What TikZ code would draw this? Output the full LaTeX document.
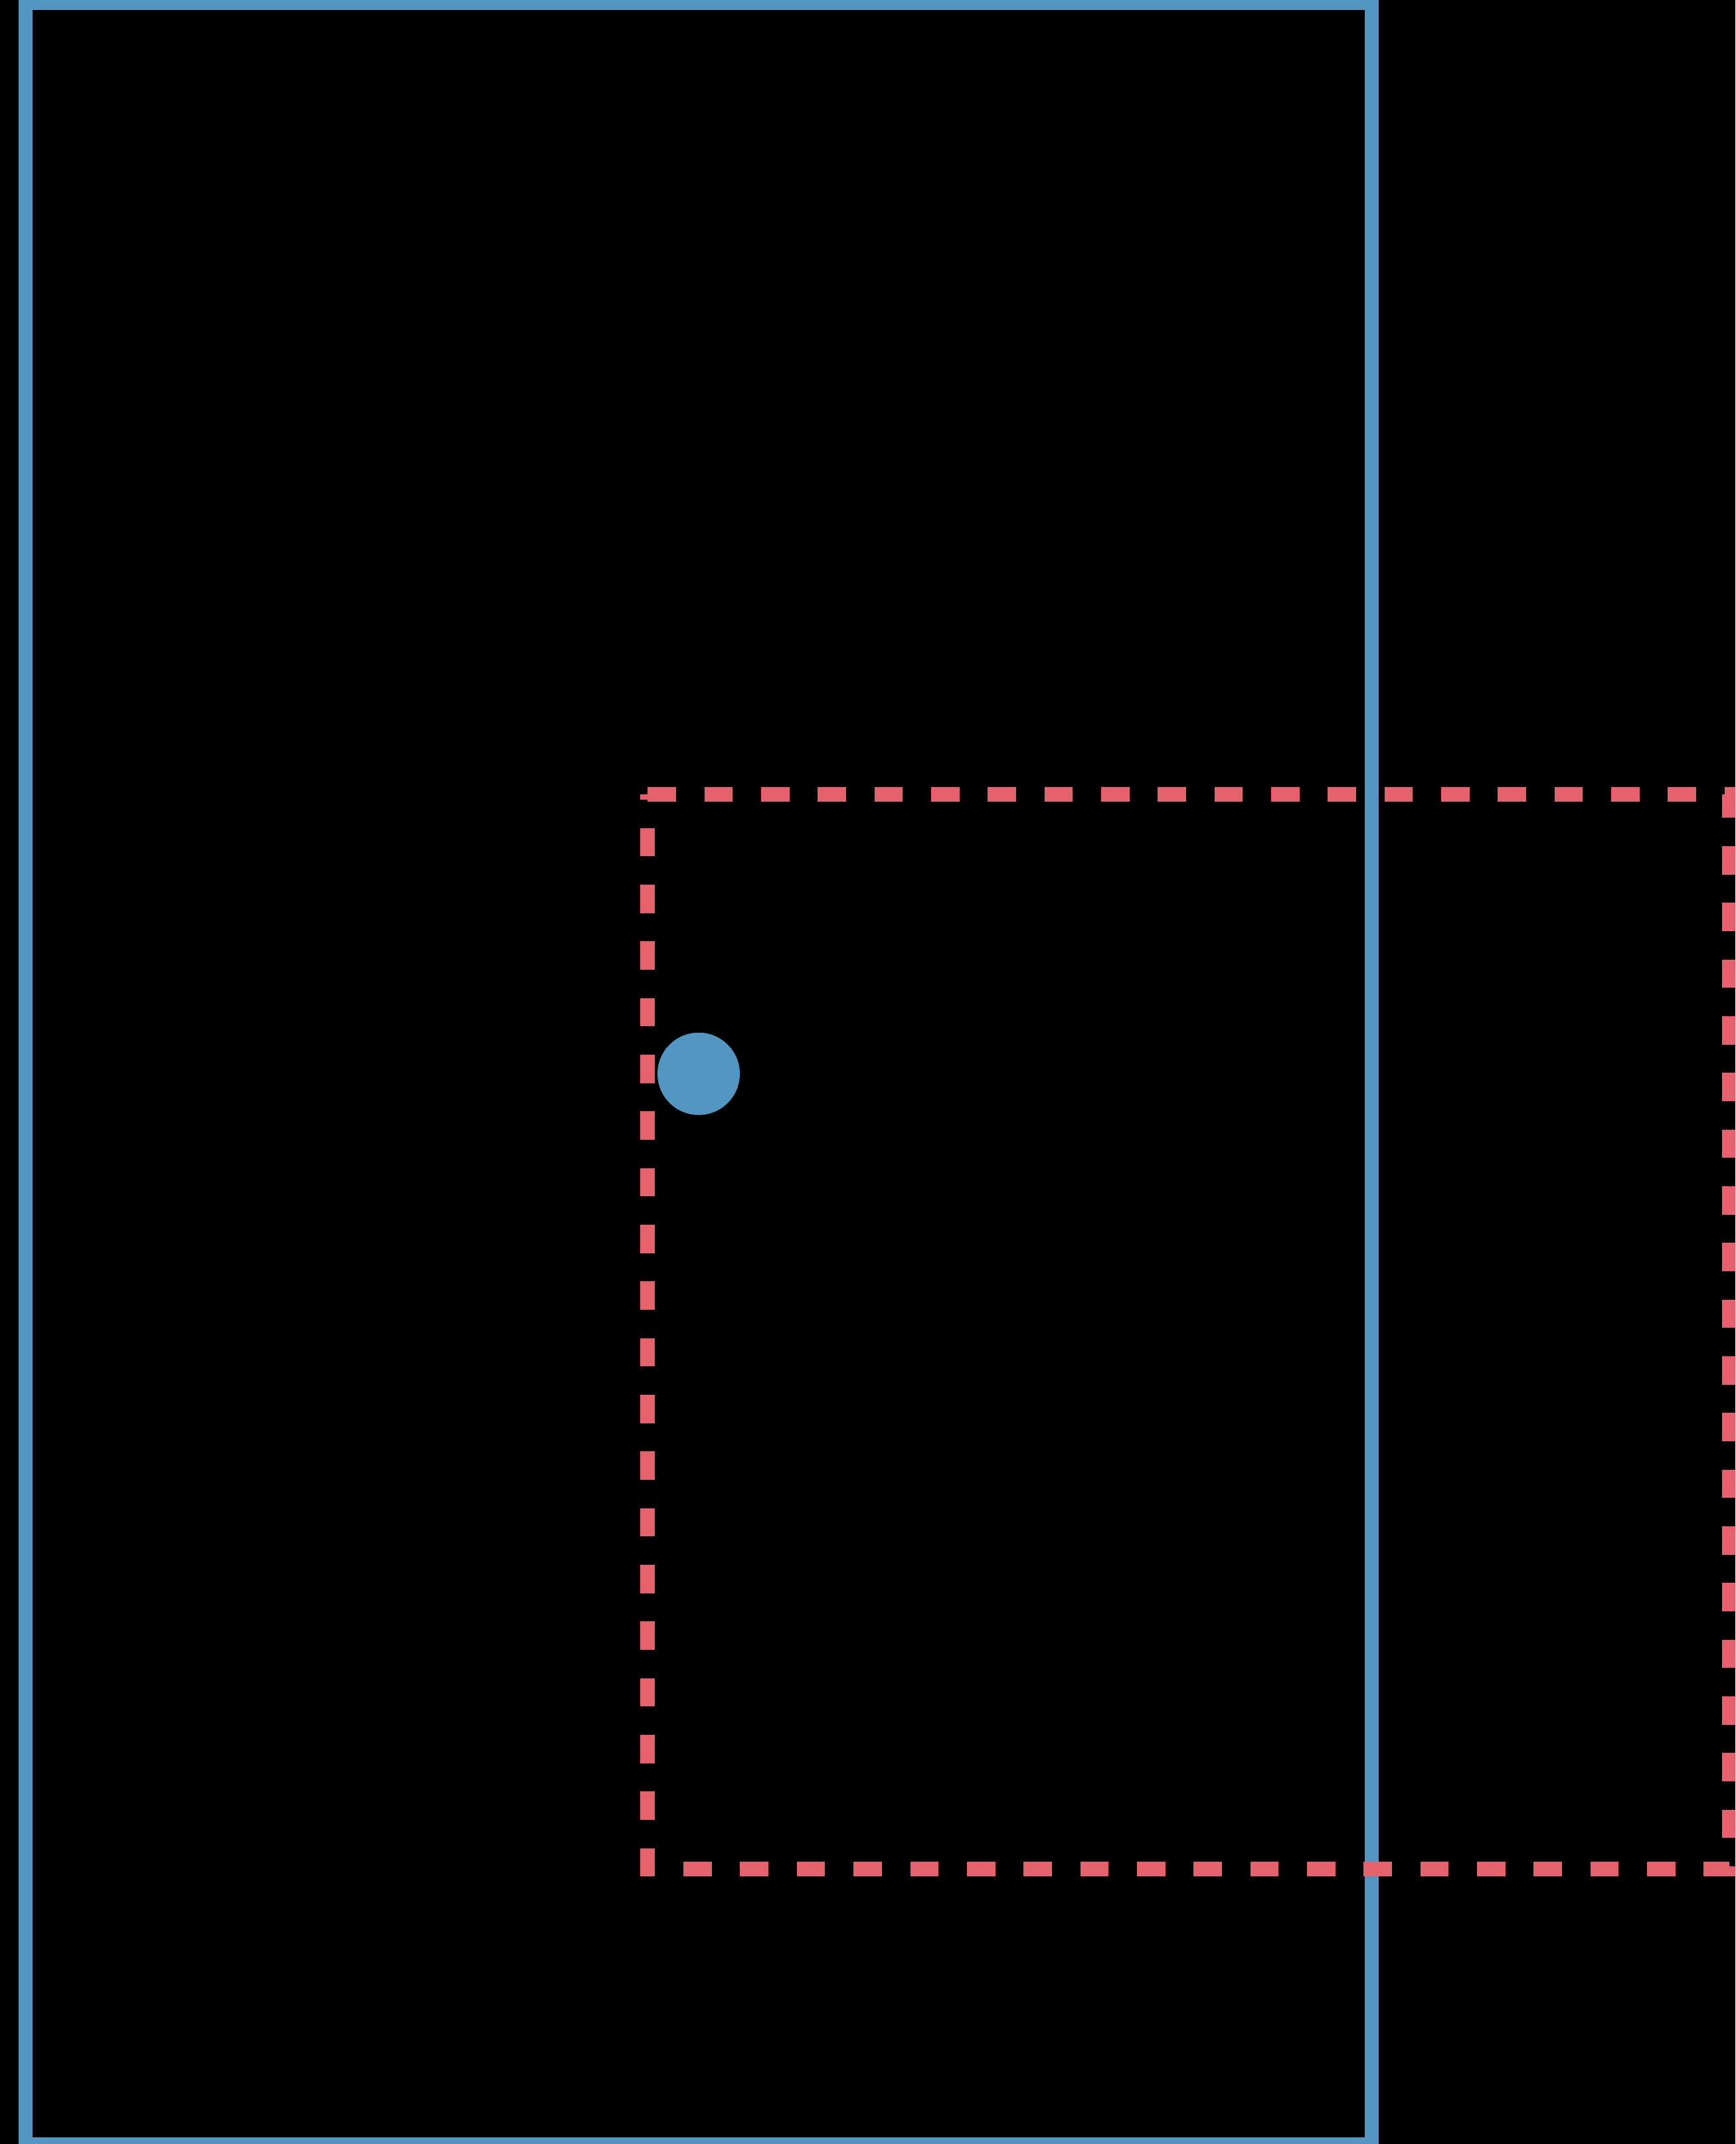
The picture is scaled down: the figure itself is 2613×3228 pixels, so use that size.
\documentclass[tikz,border=0pt]{standalone}
\definecolor{frameblue}{RGB}{83,150,194}
\definecolor{dashred}{RGB}{229,97,108}
\tikzset{
  outerframe/.style={draw=frameblue, line width=21pt},
  zonebox/.style={draw=dashred, line width=21.3pt, dash pattern=on 42.67pt off 42.67pt, dash phase=34.67pt},
  bluedot/.style={circle, fill=frameblue, minimum size=124pt, inner sep=0pt}
}
\begin{document}
\begin{tikzpicture}[x=1pt,y=-1pt]
\useasboundingbox (0,0) rectangle (2613,3228);
\clip (0,0) rectangle (2613,3228);
\fill[black] (0,0) rectangle (2613,3228);
\draw[outerframe] (38.5,4.5) rectangle (2065.5,3228.8);
\coordinate (rtl) at (975,1196);
\coordinate (rbl) at (975,2814);
\coordinate (rbr) at (2604,2814);
\coordinate (rtr) at (2604,1196);
\draw[zonebox] (rtl) -- (rbl) -- (rbr) -- (rtr) -- cycle;
\node[bluedot] (dot) at (1052,1616.7) {};
\end{tikzpicture}
\end{document}
